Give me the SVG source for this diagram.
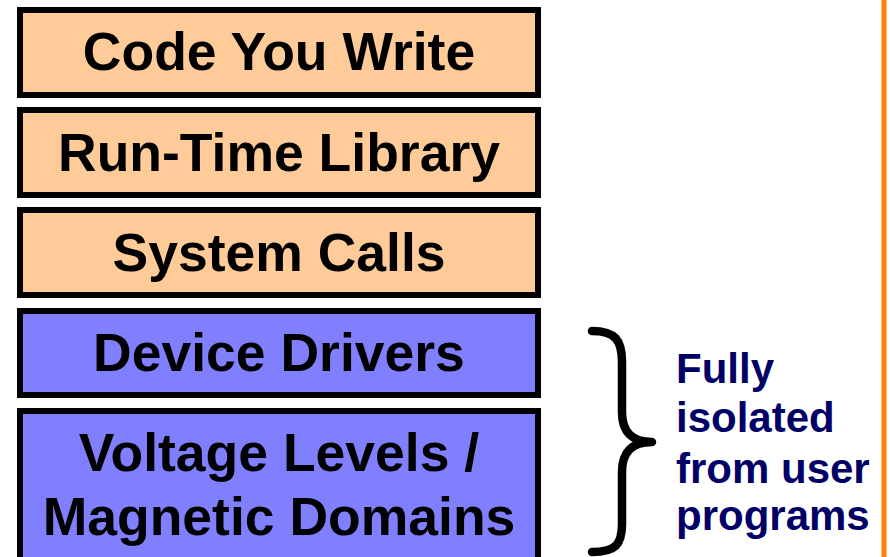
<svg xmlns="http://www.w3.org/2000/svg" width="890" height="557" viewBox="0 0 890 557">
<style>
.box{stroke:#000;stroke-width:6}
.user{fill:#FFCC99}
.sys{fill:#8080FF}
.lbl{font-family:"Liberation Sans",Arial,sans-serif;font-weight:bold;font-size:53.5px;fill:#000;text-anchor:middle}
.note{font-family:"Liberation Sans",Arial,sans-serif;font-weight:bold;font-size:42px;fill:#000066}
</style>
<rect x="0" y="0" width="890" height="557" fill="#fff"/>
<line x1="884" y1="0" x2="884" y2="557" stroke="#FF8000" stroke-width="5"/>
<g id="code-you-write">
<rect class="box user" x="20" y="10" width="518" height="85"/>
<text class="lbl" x="279" y="70">Code You Write</text>
</g>
<g id="run-time-library">
<rect class="box user" x="20" y="110" width="518" height="85"/>
<text class="lbl" x="279" y="171">Run-Time Library</text>
</g>
<g id="system-calls">
<rect class="box user" x="20" y="210" width="518" height="85"/>
<text class="lbl" x="279" y="271">System Calls</text>
</g>
<g id="device-drivers">
<rect class="box sys" x="20" y="311" width="518" height="84"/>
<text class="lbl" x="279" y="371">Device Drivers</text>
</g>
<g id="voltage-levels">
<rect class="box sys" x="20" y="411" width="518" height="190"/>
<text class="lbl" x="279" y="471">Voltage Levels /</text>
<text class="lbl" x="279" y="535">Magnetic Domains</text>
</g>
<g id="connectors">
<path d="M592,331 C615,331 622,340 622,362 L622,412 C622,432 632,442 652,442 C632,442 622,452 622,472 L622,524 C622,545 615,552 592,552" fill="none" stroke="#000" stroke-width="8.5" stroke-linecap="round" stroke-linejoin="round"/>
</g>
<g id="note">
<text class="note" x="676" y="383">Fully</text>
<text class="note" x="676" y="432">isolated</text>
<text class="note" x="676" y="483">from user</text>
<text class="note" x="676" y="530">programs</text>
</g>
</svg>
